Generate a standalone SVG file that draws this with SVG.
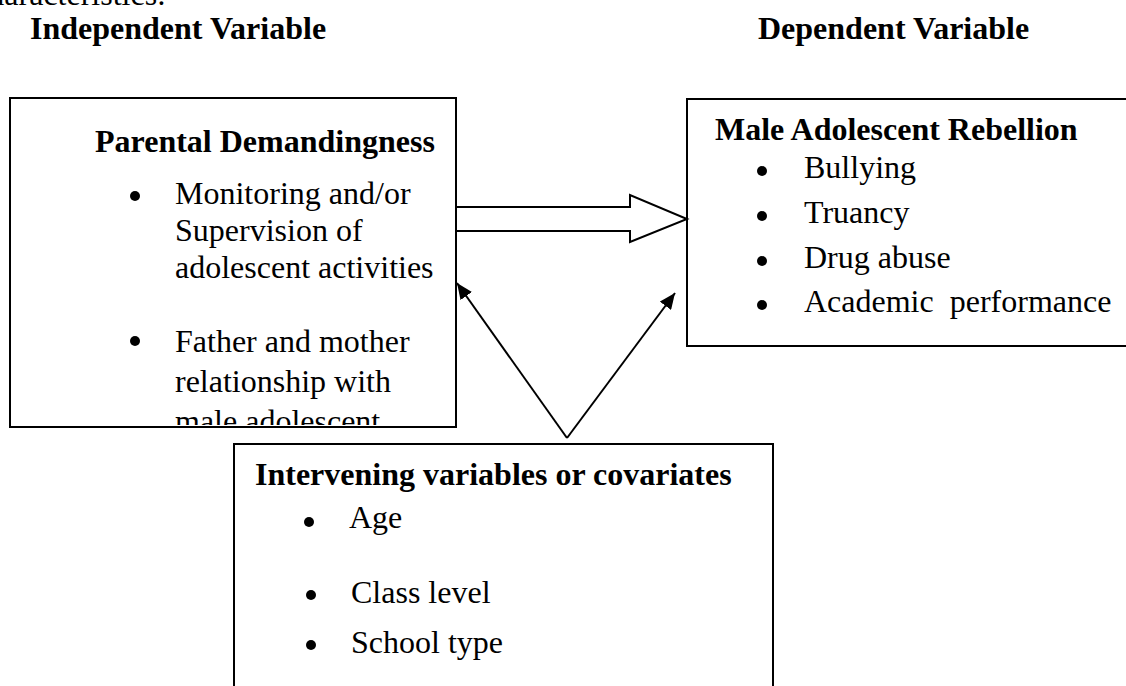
<svg xmlns="http://www.w3.org/2000/svg" width="1126" height="686" viewBox="0 0 1126 686">
  <style>
    .box { fill: #ffffff; stroke: #000000; stroke-width: 2; }
    .h { font-family: "Liberation Serif", "Times New Roman", serif; font-weight: bold; font-size: 32px; fill: #000; }
    .t { font-family: "Liberation Serif", "Times New Roman", serif; font-size: 32px; fill: #000; }
    .dot { fill: #000; }
    .conn { stroke: #000; stroke-width: 2; fill: none; }
  </style>
  <defs>
    <marker id="ah" markerUnits="userSpaceOnUse" markerWidth="18" markerHeight="14" refX="16" refY="7" orient="auto">
      <path d="M0,0 L16,7 L0,14 Z" fill="#000"/>
    </marker>
    <clipPath id="clipLeft">
      <rect x="11" y="99" width="444" height="326"/>
    </clipPath>
  </defs>
  <rect width="1126" height="686" fill="#ffffff"/>

  <text class="t" x="166" y="5" text-anchor="end">characteristics:</text>
  <text class="h" x="30" y="39">Independent Variable</text>
  <text class="h" x="758" y="39">Dependent Variable</text>

  <g id="node-parental">
    <rect class="box" x="10" y="98" width="446" height="329"/>
    <g clip-path="url(#clipLeft)">
      <text class="h" x="95" y="152">Parental Demandingness</text>
      <circle class="dot" cx="135" cy="196" r="5"/>
      <text class="t" x="175" y="204">Monitoring and/or</text>
      <text class="t" x="175" y="241">Supervision of</text>
      <text class="t" x="175" y="278">adolescent activities</text>
      <circle class="dot" cx="135" cy="341" r="5"/>
      <text class="t" x="175" y="352">Father and mother</text>
      <text class="t" x="175" y="392">relationship with</text>
      <text class="t" x="175" y="432">male adolescent</text>
    </g>
  </g>

  <g id="node-rebellion">
    <rect class="box" x="687" y="99" width="460" height="247"/>
    <text class="h" x="715" y="140">Male Adolescent Rebellion</text>
    <circle class="dot" cx="762" cy="171" r="5"/>
    <text class="t" x="804" y="178">Bullying</text>
    <circle class="dot" cx="762" cy="216" r="5"/>
    <text class="t" x="804" y="223">Truancy</text>
    <circle class="dot" cx="762" cy="261" r="5"/>
    <text class="t" x="804" y="268">Drug abuse</text>
    <circle class="dot" cx="762" cy="305" r="5"/>
    <text class="t" x="804" y="312" xml:space="preserve">Academic  performance</text>
  </g>

  <g id="node-intervening">
    <rect class="box" x="234" y="444" width="539" height="260"/>
    <text class="h" x="255" y="485">Intervening variables or covariates</text>
    <circle class="dot" cx="309" cy="522" r="5"/>
    <text class="t" x="349" y="528">Age</text>
    <circle class="dot" cx="311" cy="595" r="5"/>
    <text class="t" x="351" y="603">Class level</text>
    <circle class="dot" cx="311" cy="645" r="5"/>
    <text class="t" x="351" y="653">School type</text>
  </g>

  <g id="connectors">
    <polygon class="conn" fill="#fff" points="456,207 630,207 630,195 687,219 630,242 630,231 456,231" style="fill:#fff"/>
    <line class="conn" x1="567" y1="438" x2="457" y2="283" marker-end="url(#ah)"/>
    <line class="conn" x1="567" y1="438" x2="675" y2="293" marker-end="url(#ah)"/>
  </g>
</svg>
